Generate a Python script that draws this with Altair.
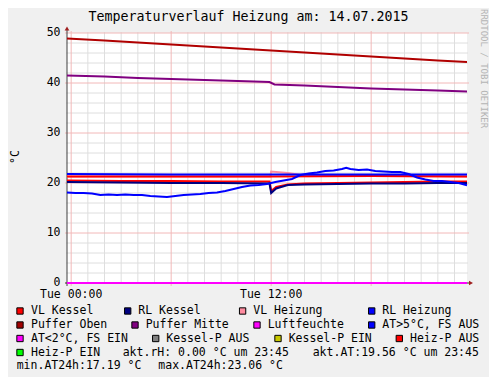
import altair as alt
import pandas as pd

# ---------------- data ----------------
TITLE = "Temperaturverlauf Heizung am: 14.07.2015"
Y_TICKS = [0, 10, 20, 30, 40, 50]
X_TICK_HOURS = [0, 12]
X_TICK_LABELS = ["Tue 00:00", "Tue 12:00"]

# hours relative to Tue 00:00
PUFFER_OBEN_H = [-0.25, 2, 4, 6, 8, 10, 12, 14, 16, 18, 20, 22, 23.75]
PUFFER_OBEN_V = [48.9, 48.5, 48.1, 47.7, 47.3, 46.9, 46.5, 46.1, 45.7, 45.3, 44.9, 44.5, 44.2]

PUFFER_MITTE_H = [-0.25, 2, 4, 6, 8, 10, 11.9, 12.2, 14, 16, 18, 20, 22, 23.75]
PUFFER_MITTE_V = [41.5, 41.3, 41.0, 40.8, 40.6, 40.4, 40.2, 39.7, 39.5, 39.2, 38.9, 38.7, 38.5, 38.3]

VL_HEIZUNG_H = [-0.25, 6, 11.95, 12.0, 13.0, 13.8, 14.5, 18, 23.75]
VL_HEIZUNG_V = [21.3, 21.3, 21.3, 22.3, 22.0, 21.6, 21.4, 21.4, 21.3]

RL_HEIZUNG_H = [-0.25, 6, 12, 18, 23.75]
RL_HEIZUNG_V = [21.8, 21.7, 21.7, 21.7, 21.7]

HEIZP_AUS_H = [-0.25, 6, 12, 18, 23.75]
HEIZP_AUS_V = [21.3, 21.3, 21.3, 21.4, 21.3]

VL_KESSEL_H = [-0.25, 3, 6, 9, 11.9, 12.0, 12.3, 13, 14, 16, 18, 20, 22, 23.75]
VL_KESSEL_V = [20.5, 20.4, 20.4, 20.3, 20.3, 18.4, 19.2, 19.7, 19.9, 20.0, 20.1, 20.2, 20.3, 20.3]

RL_KESSEL_H = [-0.25, 3, 6, 9, 11.9, 12.0, 12.3, 13, 14, 16, 18, 20, 22, 23.75]
RL_KESSEL_V = [20.2, 20.1, 20.0, 20.0, 19.9, 18.0, 18.9, 19.6, 19.7, 19.8, 19.9, 19.9, 20.0, 20.0]

AT_H = [-0.25, 0.25, 0.75, 1.25, 1.75, 2.25, 2.75, 3.25, 3.75, 4.25, 4.75, 5.25, 5.75,
        6.25, 6.75, 7.25, 7.75, 8.25, 8.75, 9.25, 9.75, 10.25, 10.75, 11.25, 11.75,
        12.25, 12.75, 13.25, 13.75, 14.25, 14.75, 15.25, 15.75, 16.25, 16.5, 16.75,
        17.25, 17.75, 18.25, 18.75, 19.25, 19.75, 20.25, 20.75, 21.25, 21.75, 22.25,
        22.75, 23.25, 23.75]
AT_V = [18.1, 18.0, 18.0, 17.9, 17.6, 17.7, 17.6, 17.7, 17.6, 17.6, 17.4, 17.3, 17.2,
        17.4, 17.6, 17.7, 17.8, 18.0, 18.1, 18.4, 18.8, 19.2, 19.5, 19.6, 19.8,
        20.2, 20.5, 20.8, 21.6, 21.9, 22.1, 22.4, 22.5, 22.8, 23.06, 22.8,
        22.6, 22.7, 22.4, 22.3, 22.2, 22.2, 21.8, 21.1, 20.7, 20.4, 20.4,
        20.2, 20.0, 19.56]

LUFT_H = [-0.25, 23.75]
LUFT_V = [0.0, 0.0]

LEGEND_LABELS = ["VL Kessel", "RL Kessel", "VL Heizung", "RL Heizung",
                 "Puffer Oben", "Puffer Mitte", "Luftfeuchte", "AT>5°C, FS AUS",
                 "AT<2°C, FS EIN", "Kessel-P AUS", "Kessel-P EIN", "Heiz-P AUS",
                 "Heiz-P EIN"]
LEGEND_COLORS = ["#ff0000", "#000080", "#ff8ca0", "#0000ff",
                 "#a00000", "#800080", "#ff00ff", "#0000ff",
                 "#ff00ff", "#808080", "#c8c800", "#ff0000",
                 "#00ff00"]
INFO_TEXTS = ["akt.rH: 0.00 °C um 23:45", "akt.AT:19.56 °C um 23:45",
              "min.AT24h:17.19 °C", "max.AT24h:23.06 °C"]

# ---------------- layout / style ----------------
W, H = 400, 250
FONT = "DejaVu Sans Mono"
FS = 11.5
# legend layout: (row y, square x, text x) in plot pixel coords
LEGEND_POS = [(278, -47, -36), (278, 60.7, 71.3), (278, 175.6, 186.3), (278, 304.7, 315.3),
              (292, -47, -36), (292, 68, 78.7), (292, 190, 200.7), (292, 304.7, 315.3),
              (305.5, -47, -36), (305.5, 88.7, 99.3), (305.5, 211, 221.7), (305.5, 332.3, 343),
              (319.5, -47, -36)]
INFO_POS = [(319.5, 55.7), (319.5, 245.7), (333, -50.3), (333, 91.3)]

xs = alt.Scale(domain=[-0.25, 23.75], nice=False, zero=False)
ys = alt.Scale(domain=[0, 50], nice=False, zero=False)
one = pd.DataFrame({"a": [0]})

layers = []

# grid
minor_h = [v for v in range(2, 50, 2) if v % 10]
major_h = [v for v in range(0, 51, 10)]
minor_v = [h for h in range(0, 24) if h % 6]
major_v = [0, 6, 12, 18]

layers.append(alt.Chart(pd.DataFrame({"v": minor_h})).mark_rule(color="#dedede", strokeWidth=1).encode(
    y=alt.Y("v:Q", scale=ys, axis=None), x=alt.value(-1), x2=alt.value(W + 1)))
layers.append(alt.Chart(pd.DataFrame({"h": minor_v})).mark_rule(color="#dedede", strokeWidth=1).encode(
    x=alt.X("h:Q", scale=xs, axis=None), y=alt.value(-1), y2=alt.value(H + 1)))
layers.append(alt.Chart(pd.DataFrame({"v": major_h})).mark_rule(color="#f2b8b8", strokeWidth=1).encode(
    y=alt.Y("v:Q", scale=ys, axis=None), x=alt.value(-2), x2=alt.value(W + 2)))
layers.append(alt.Chart(pd.DataFrame({"h": major_v})).mark_rule(color="#f2b8b8", strokeWidth=1).encode(
    x=alt.X("h:Q", scale=xs, axis=None), y=alt.value(-2), y2=alt.value(H + 3)))

# axes lines + arrows
layers.append(alt.Chart(one).mark_rule(color="#404040", strokeWidth=1).encode(
    x=alt.value(0), y=alt.value(-4), y2=alt.value(H + 3)))
layers.append(alt.Chart(one).mark_rule(color="#404040", strokeWidth=1).encode(
    y=alt.value(H), x=alt.value(-2), x2=alt.value(W + 3)))

# series (drawing order as in rrdtool)
series = [
    (VL_KESSEL_H, VL_KESSEL_V, "#ff0000"),
    (RL_KESSEL_H, RL_KESSEL_V, "#000080"),
    (VL_HEIZUNG_H, VL_HEIZUNG_V, "#ff8ca0"),
    (HEIZP_AUS_H, HEIZP_AUS_V, "#ff0000"),
    (RL_HEIZUNG_H, RL_HEIZUNG_V, "#0000ff"),
    (PUFFER_OBEN_H, PUFFER_OBEN_V, "#b00000"),
    (PUFFER_MITTE_H, PUFFER_MITTE_V, "#800080"),
    (LUFT_H, LUFT_V, "#ff00ff"),
    (AT_H, AT_V, "#0000ff"),
]
for hh, vv, col in series:
    layers.append(alt.Chart(pd.DataFrame({"h": hh, "v": vv})).mark_line(
        color=col, strokeWidth=2).encode(
        x=alt.X("h:Q", scale=xs, axis=None), y=alt.Y("v:Q", scale=ys, axis=None)))

layers.append(alt.Chart(one).mark_point(shape="triangle-up", filled=True, size=22,
                                         color="#a02020", opacity=1).encode(
    x=alt.value(0), y=alt.value(-4.5)))
layers.append(alt.Chart(one).mark_point(shape="triangle-right", filled=True, size=22,
                                         color="#a02020", opacity=1).encode(
    x=alt.value(W + 4), y=alt.value(H)))

# tick labels
layers.append(alt.Chart(pd.DataFrame({"v": Y_TICKS})).mark_text(
    font=FONT, fontSize=FS, align="right", baseline="middle", color="#000000").encode(
    y=alt.Y("v:Q", scale=ys, axis=None), x=alt.value(-6.5), text="v:Q"))
layers.append(alt.Chart(pd.DataFrame({"h": X_TICK_HOURS, "t": X_TICK_LABELS})).mark_text(
    font=FONT, fontSize=FS, align="center", baseline="middle", color="#000000").encode(
    x=alt.X("h:Q", scale=xs, axis=None), y=alt.value(261.5), text="t:N"))

# titles
layers.append(alt.Chart(pd.DataFrame({"t": [TITLE]})).mark_text(
    font=FONT, fontSize=13.3, align="center", baseline="alphabetic", color="#000000").encode(
    x=alt.value(181.5), y=alt.value(-12), text="t:N"))
layers.append(alt.Chart(pd.DataFrame({"t": ["°C"]})).mark_text(
    font=FONT, fontSize=FS, align="center", baseline="middle", angle=270, color="#000000").encode(
    x=alt.value(-51.5), y=alt.value(124), text="t:N"))
layers.append(alt.Chart(pd.DataFrame({"t": ["RRDTOOL / TOBI OETIKER"]})).mark_text(
    font=FONT, fontSize=9, align="left", baseline="middle", angle=90, color="#b4b4b4").encode(
    x=alt.value(417), y=alt.value(-24), text="t:N"))

# legend
for lab, col, (py, sx, tx) in zip(LEGEND_LABELS, LEGEND_COLORS, LEGEND_POS):
    layers.append(alt.Chart(one).mark_square(size=40, filled=True, fill=col, stroke="#000000",
                                              strokeWidth=1, opacity=1).encode(
        x=alt.value(sx), y=alt.value(py)))
    layers.append(alt.Chart(pd.DataFrame({"t": [lab]})).mark_text(
        font=FONT, fontSize=FS, align="left", baseline="middle", color="#000000").encode(
        x=alt.value(tx), y=alt.value(py), text="t:N"))
for txt, (py, tx) in zip(INFO_TEXTS, INFO_POS):
    layers.append(alt.Chart(pd.DataFrame({"t": [txt]})).mark_text(
        font=FONT, fontSize=FS, align="left", baseline="middle", color="#000000").encode(
        x=alt.value(tx), y=alt.value(py), text="t:N"))

chart = alt.layer(*layers).properties(
    width=W, height=H,
    padding={"left": 59, "top": 25, "right": 22, "bottom": 94},
    autosize=alt.AutoSizeParams(type="none"),
    background="#f0f0f0",
).configure_view(fill="#ffffff", stroke=None)

chart.save("out.html", embed_options={"renderer": "svg", "actions": False})
